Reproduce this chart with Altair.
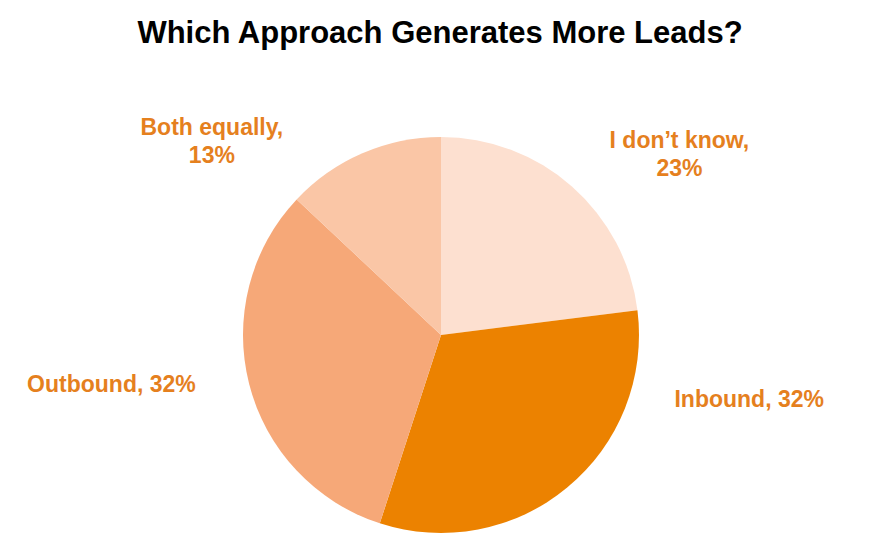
import altair as alt
import pandas as pd

categories = ["I don\u2019t know", "Inbound", "Outbound", "Both equally"]
values = [23, 32, 32, 13]
labels = ["I don\u2019t know,\n23%", "Inbound, 32%", "Outbound, 32%", "Both equally,\n13%"]
colors = ["#FDE0D0", "#EC8200", "#F6A878", "#FAC6A6"]

df = pd.DataFrame({
    "category": categories,
    "value": values,
    "label": labels,
    "order": list(range(len(categories))),
})

CX, CY = 433, 267
R = 198
LABEL_R = 300
theta_scale = alt.Scale(domain=[0, 100], range=[0, 6.283185307179586])

base = alt.Chart(df).transform_window(
    cum="sum(value)", frame=[None, 0], sort=[alt.SortField("order")]
).transform_calculate(
    start="datum.cum - datum.value",
    mid="datum.cum - datum.value / 2",
)

arcs = base.mark_arc(radius=R).encode(
    theta=alt.Theta("start:Q", scale=theta_scale),
    theta2="cum:Q",
    color=alt.Color("category:N", scale=alt.Scale(domain=categories, range=colors), legend=None),
    x=alt.value(CX),
    y=alt.value(CY),
)

offsets = {
    categories[0]: (40, 31),
    categories[1]: (117, -166),
    categories[2]: (-39, -25),
    categories[3]: (-110, 68),
}

layers = [arcs]
for cat in categories:
    dx, dy = offsets[cat]
    layers.append(
        base.transform_filter(alt.datum.category == cat).mark_text(
            radius=LABEL_R, dx=dx, dy=dy, font="Liberation Sans", fontWeight="bold",
            fontSize=23, color="#E5801E", align="center", baseline="middle",
            lineBreak="\n", lineHeight=28,
        ).encode(
            theta=alt.Theta("mid:Q", scale=theta_scale),
            text="label:N",
            x=alt.value(CX),
            y=alt.value(CY),
        )
    )

chart = alt.layer(*layers).properties(
    width=864,
    height=473,
    padding={"top": 60, "left": 0, "right": 0, "bottom": 0},
    autosize=alt.AutoSizeParams(type="none"),
    title=alt.TitleParams(
        "Which Approach Generates More Leads?",
        font="Liberation Sans", fontSize=31, fontWeight="bold", color="#000000",
        anchor="middle", baseline="alphabetic", offset=26, dy=32, frame="group",
    ),
).configure_view(stroke=None)

chart.save("out.html", embed_options={"renderer": "svg", "actions": False})
